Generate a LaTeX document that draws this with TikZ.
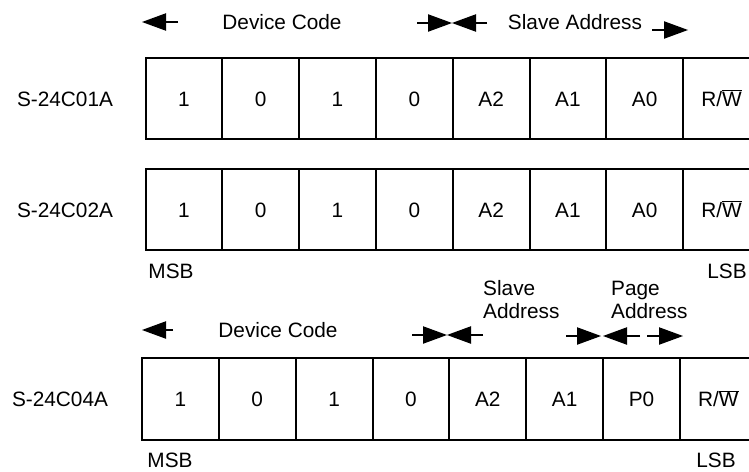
\documentclass[tikz,border=0pt]{standalone}
\usepackage{fontspec}
\setmainfont{Liberation Sans}
\newcommand\rwbar{R/$\overline{\hbox{W}}$}
\begin{document}
\begin{tikzpicture}[x=1pt,y=-1pt,
  font=\fontsize{20.8}{23}\selectfont,
  cell/.style={draw, line width=2pt, minimum width=76.8pt, minimum height=81.5pt, inner sep=0pt, text height=15pt, text depth=0pt},
  lbl/.style={inner sep=0pt, text height=15pt, text depth=0pt},
  tl/.style={line width=2.8pt, shorten >=10pt},
  lhead/.pic={\fill (0,0) -- (24,-8.8) -- (24,8.8) -- cycle;},
  rhead/.pic={\fill (0,0) -- (-24,-8.8) -- (-24,8.8) -- cycle;}]
\useasboundingbox (0,0) rectangle (749,471);

% top labels
\node[lbl] (dc1) at (282,22) {Device Code};
\node[lbl] (sa1) at (575,22) {Slave Address};
\coordinate (t1a) at (178,22); \coordinate (t1b) at (142,22);
\draw[tl] (t1a) -- (t1b); \pic at (t1b) {lhead};
\coordinate (t2a) at (417,23); \coordinate (t2m) at (452,23); \coordinate (t2b) at (487,23);
\draw[tl] (t2a) -- (t2m); \pic at (t2m) {rhead};
\draw[tl] (t2b) -- (t2m); \pic at (t2m) {lhead};
\coordinate (t3a) at (652,30); \coordinate (t3b) at (688,30);
\draw[tl] (t3a) -- (t3b); \pic at (t3b) {rhead};

% row 1
\node[lbl] (n1) at (65,98.5) {S-24C01A};
\foreach \t [count=\i] in {1,0,1,0,A2,A1,A0,\rwbar}
  \node[cell] (a\i) at ({145.5+76.8*(\i-0.5)},98.5) {\t};

% row 2
\node[lbl] (n2) at (65,209.5) {S-24C02A};
\foreach \t [count=\i] in {1,0,1,0,A2,A1,A0,\rwbar}
  \node[cell] (b\i) at ({145.5+76.8*(\i-0.5)},209.5) {\t};
\node[lbl] (msb1) at (171,271) {MSB};
\node[lbl] (lsb1) at (727,271) {LSB};

% bottom labels
\node[lbl,anchor=west] (sl) at (483,288) {Slave};
\node[lbl,anchor=west] (sl2) at (483,311) {Address};
\node[lbl,anchor=west] (pg) at (611,288) {Page};
\node[lbl,anchor=west] (pg2) at (611,311) {Address};
\node[lbl] (dc2) at (278,330) {Device Code};
\coordinate (u1a) at (173,330); \coordinate (u1b) at (142,330);
\draw[tl] (u1a) -- (u1b); \pic at (u1b) {lhead};
\coordinate (u2a) at (412,335); \coordinate (u2m) at (447,335); \coordinate (u2b) at (483,335);
\draw[tl] (u2a) -- (u2m); \pic at (u2m) {rhead};
\draw[tl] (u2b) -- (u2m); \pic at (u2m) {lhead};
\coordinate (u3a) at (566,336); \coordinate (u3b) at (601,336);
\draw[tl] (u3a) -- (u3b); \pic at (u3b) {rhead};
\coordinate (u4a) at (640,336); \coordinate (u4b) at (603,336);
\draw[tl] (u4a) -- (u4b); \pic at (u4b) {lhead};
\coordinate (u5a) at (647,336); \coordinate (u5b) at (683,336);
\draw[tl] (u5a) -- (u5b); \pic at (u5b) {rhead};

% row 3
\node[lbl] (n3) at (60,399) {S-24C04A};
\foreach \t [count=\i] in {1,0,1,0,A2,A1,P0,\rwbar}
  \node[cell,minimum height=82pt] (c\i) at ({142+76.85*(\i-0.5)},399) {\t};
\node[lbl] (msb2) at (170,460) {MSB};
\node[lbl] (lsb2) at (716,460) {LSB};
\end{tikzpicture}
\end{document}
